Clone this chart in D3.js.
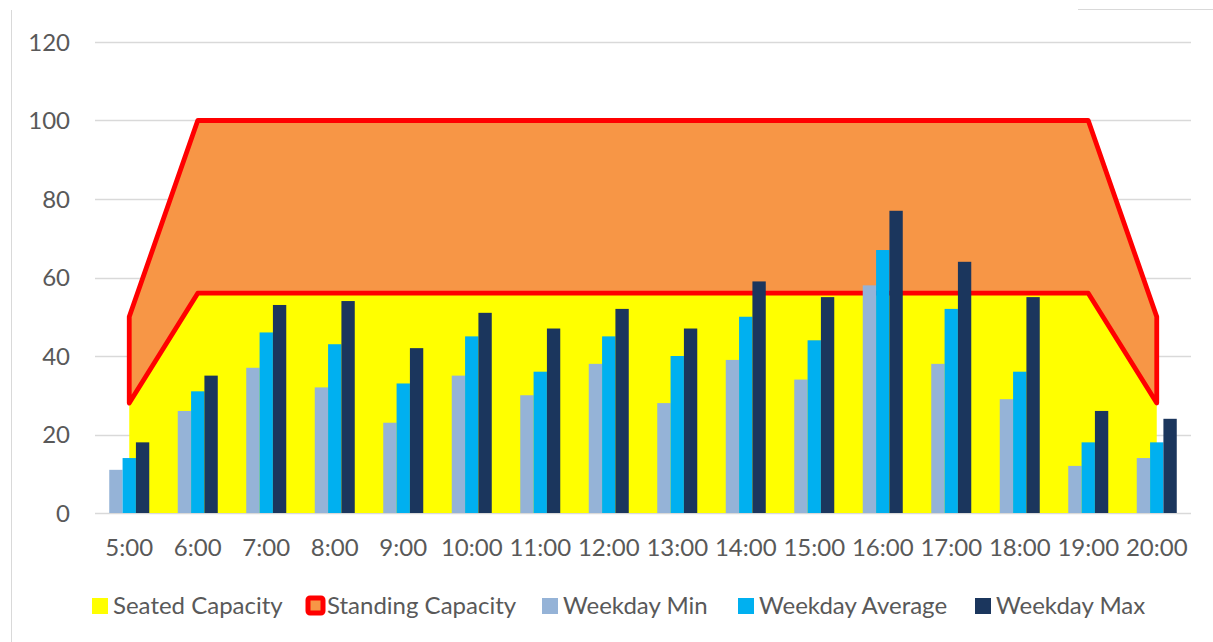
<!DOCTYPE html>
<html>
<head>
<meta charset="utf-8">
<script src="https://cdn.jsdelivr.net/npm/d3@7"></script>
<style>
  html, body { margin: 0; padding: 0; background: #fff; }
  svg { display: block; }
  text { font-family: Lato, "Open Sans", sans-serif; fill: #595959; }
</style>
</head>
<body>
<svg id="chart" width="1213" height="642"></svg>
<script>
// ---- data ----
const categories = ["5:00","6:00","7:00","8:00","9:00","10:00","11:00","12:00","13:00","14:00","15:00","16:00","17:00","18:00","19:00","20:00"];
const seatedCapacity   = [28,56,56,56,56,56,56,56,56,56,56,56,56,56,56,28];
const standingCapacity = [50,100,100,100,100,100,100,100,100,100,100,100,100,100,100,50];
const weekdayMin = [11,26,37,32,23,35,30,38,28,39,34,58,38,29,12,14];
const weekdayAvg = [14,31,46,43,33,45,36,45,40,50,44,67,52,36,18,18];
const weekdayMax = [18,35,53,54,42,51,47,52,47,59,55,77,64,55,26,24];
const yTicks = [0,20,40,60,80,100,120];
const seriesNames = ["Weekday Min","Weekday Average","Weekday Max"];
const seriesColors = ["#95B3D7","#00B0F0","#1B365D"];

const svg = d3.select("#chart");
const plotLeft = 95, plotRight = 1191, plotTop = 42, plotBottom = 513;
const fontSize = 24;

const x = d3.scaleBand().domain(categories).range([plotLeft, plotRight]).paddingInner(0.416).paddingOuter(0.208);
const xc = d => x(d) + x.bandwidth() / 2;
const x1 = d3.scaleBand().domain(seriesNames).range([0, x.bandwidth()]).padding(0);
const y = d3.scaleLinear().domain([0, 120]).range([plotBottom, plotTop]);

// frame remnants
svg.append("line").attr("x1", 11.5).attr("x2", 11.5).attr("y1", 10).attr("y2", 642).attr("stroke", "#d9d9d9").attr("stroke-width", 1);
svg.append("line").attr("x1", 1078).attr("x2", 1213).attr("y1", 9.5).attr("y2", 9.5).attr("stroke", "#d9d9d9").attr("stroke-width", 1);

// gridlines
svg.append("g").selectAll("line").data(yTicks).join("line")
  .attr("x1", plotLeft).attr("x2", plotRight)
  .attr("y1", d => Math.round(y(d)) + 0.5).attr("y2", d => Math.round(y(d)) + 0.5)
  .attr("stroke", "#d9d9d9").attr("stroke-width", 1.3);

// y labels
svg.append("g").selectAll("text").data(yTicks).join("text")
  .attr("x", 70).attr("y", d => y(d) + 8.5)
  .attr("text-anchor", "end").attr("font-size", fontSize).text(d => d);

// areas
const idx = d3.range(categories.length);
const seatedArea = d3.area().x(i => xc(categories[i])).y0(y(0)).y1(i => y(seatedCapacity[i]));
svg.append("path").datum(idx).attr("d", seatedArea).attr("fill", "#FFFF00");

const standingArea = d3.area().x(i => xc(categories[i])).y0(i => y(seatedCapacity[i])).y1(i => y(standingCapacity[i]));
svg.append("path").datum(idx).attr("d", standingArea)
  .attr("fill", "#F79646").attr("stroke", "#FF0000").attr("stroke-width", 4.8).attr("stroke-linejoin", "round");

// bars
const seriesData = [weekdayMin, weekdayAvg, weekdayMax];
const groups = svg.append("g").selectAll("g").data(categories).join("g")
  .attr("transform", d => `translate(${x(d)},0)`);
groups.selectAll("rect").data((d, i) => seriesData.map((s, k) => ({ name: seriesNames[k], v: s[i], c: seriesColors[k] })))
  .join("rect")
  .attr("x", d => x1(d.name)).attr("width", x1.bandwidth())
  .attr("y", d => y(d.v)).attr("height", d => y(0) - y(d.v))
  .attr("fill", d => d.c);

// x labels
svg.append("g").selectAll("text").data(categories).join("text")
  .attr("x", d => xc(d)).attr("y", 556)
  .attr("text-anchor", "middle").attr("font-size", fontSize).text(d => d);

// legend
const legendItems = [
  { name: "Seated Capacity", type: "seated", sx: 92 },
  { name: "Standing Capacity", type: "standing", sx: 306 },
  { name: "Weekday Min", type: "bar", c: seriesColors[0], sx: 542 },
  { name: "Weekday Average", type: "bar", c: seriesColors[1], sx: 738 },
  { name: "Weekday Max", type: "bar", c: seriesColors[2], sx: 975 }
];
const lg = svg.append("g");
legendItems.forEach(it => {
  if (it.type === "seated") {
    lg.append("rect").attr("x", it.sx).attr("y", 598).attr("width", 16).attr("height", 16).attr("fill", "#FFFF00");
  } else if (it.type === "standing") {
    lg.append("rect").attr("x", it.sx + 2).attr("y", 598).attr("width", 15).attr("height", 15).attr("rx", 2)
      .attr("fill", "#F79646").attr("stroke", "#FF0000").attr("stroke-width", 5);
  } else {
    lg.append("rect").attr("x", it.sx).attr("y", 598).attr("width", 16).attr("height", 16).attr("fill", it.c);
  }
  lg.append("text").attr("x", it.sx + 21).attr("y", 614).attr("font-size", fontSize).text(it.name);
});
</script>
</body>
</html>
